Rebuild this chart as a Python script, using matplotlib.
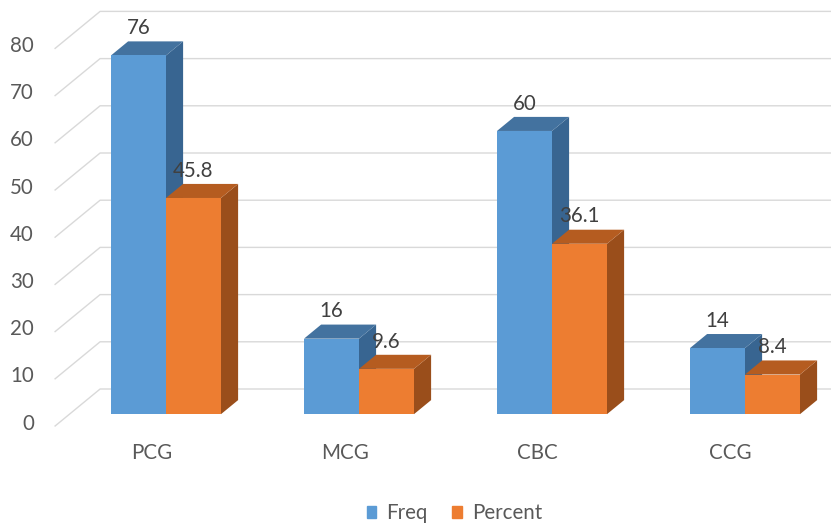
import matplotlib
matplotlib.use("Agg")
import matplotlib.pyplot as plt
from matplotlib.patches import Patch

# datos
categories = ["PCG", "MCG", "CBC", "CCG"]
freq = [76, 16, 60, 14]
percent = [45.8, 9.6, 36.1, 8.4]
series_names = ["Freq", "Percent"]
y_ticks = [0, 10, 20, 30, 40, 50, 60, 70, 80]

# colores (frente, arriba, lado)
blue = ("#5B9BD5", "#43729F", "#386591")
orange = ("#ED7D31", "#B55C20", "#9A4E1B")

# proyeccion oblicua: desplazamiento de la profundidad completa
DX = 45 / 193.0
DV = 37 / 4.72
T0, T1 = 0.32, 0.70   # profundidad de las barras
W = 55 / 193.0        # ancho de barra
FS = 14.8


def proj(x, v, t):
    return x + t * DX, v + t * DV


def draw_bar(ax, a, b, v, colors):
    front = [proj(a, 0, T0), proj(b, 0, T0), proj(b, v, T0), proj(a, v, T0)]
    top = [proj(a, v, T0), proj(b, v, T0), proj(b, v, T1), proj(a, v, T1)]
    side = [proj(b, 0, T0), proj(b, 0, T1), proj(b, v, T1), proj(b, v, T0)]
    for poly, c in zip([side, top, front], [colors[2], colors[1], colors[0]]):
        xs, ys = zip(*poly)
        ax.fill(xs, ys, color=c, lw=0, zorder=3)


plt.rcParams["font.family"] = ["Lato", "DejaVu Sans"]
fig = plt.figure(figsize=(8.31, 5.24), dpi=100)
ax = fig.add_axes([0, 0, 1, 1])
ax.set_xlim(-151.6 / 193, (831 - 151.6) / 193)
ax.set_ylim(-(524 - 426) / 4.72, 426 / 4.72)
ax.axis("off")

# rejilla: pared del fondo y lineas diagonales
left, right = -0.5, len(categories) - 0.5
for v in y_ticks:
    x0, y0 = proj(left, v, 0)
    x1, y1 = proj(left, v, 1)
    x2, y2 = proj(right + 1, v, 1)
    ax.plot([x0, x1, x2], [y0, y1, y2], color="#D9D9D9", lw=1.0, zorder=1)
    ax.text(left - 0.11, v + 0.5, str(v), ha="right", va="center",
            fontsize=FS, color="#595959")

# barras
for i, cat in enumerate(categories):
    draw_bar(ax, i - W, i, freq[i], blue)
    draw_bar(ax, i, i + W, percent[i], orange)

# etiquetas de datos
for i, cat in enumerate(categories):
    for x, v in [(i - W / 2, freq[i]), (i + W / 2, percent[i])]:
        ax.text(x + T0 * DX, v + T1 * DV + 2.8, f"{v:g}", ha="center",
                va="center", fontsize=FS, color="#404040", zorder=5)
    ax.text(i, -5.7, cat, ha="center", va="center", fontsize=FS,
            color="#595959")

handles = [Patch(color=blue[0]), Patch(color=orange[0])]
fig.legend(handles, series_names, loc="center", bbox_to_anchor=(0.547, 0.021),
           ncol=2, frameon=False, fontsize=FS, handlelength=0.45,
           handleheight=0.5, handletextpad=0.5, columnspacing=1.2,
           labelcolor="#595959")

fig.savefig("out.png", dpi=100)
